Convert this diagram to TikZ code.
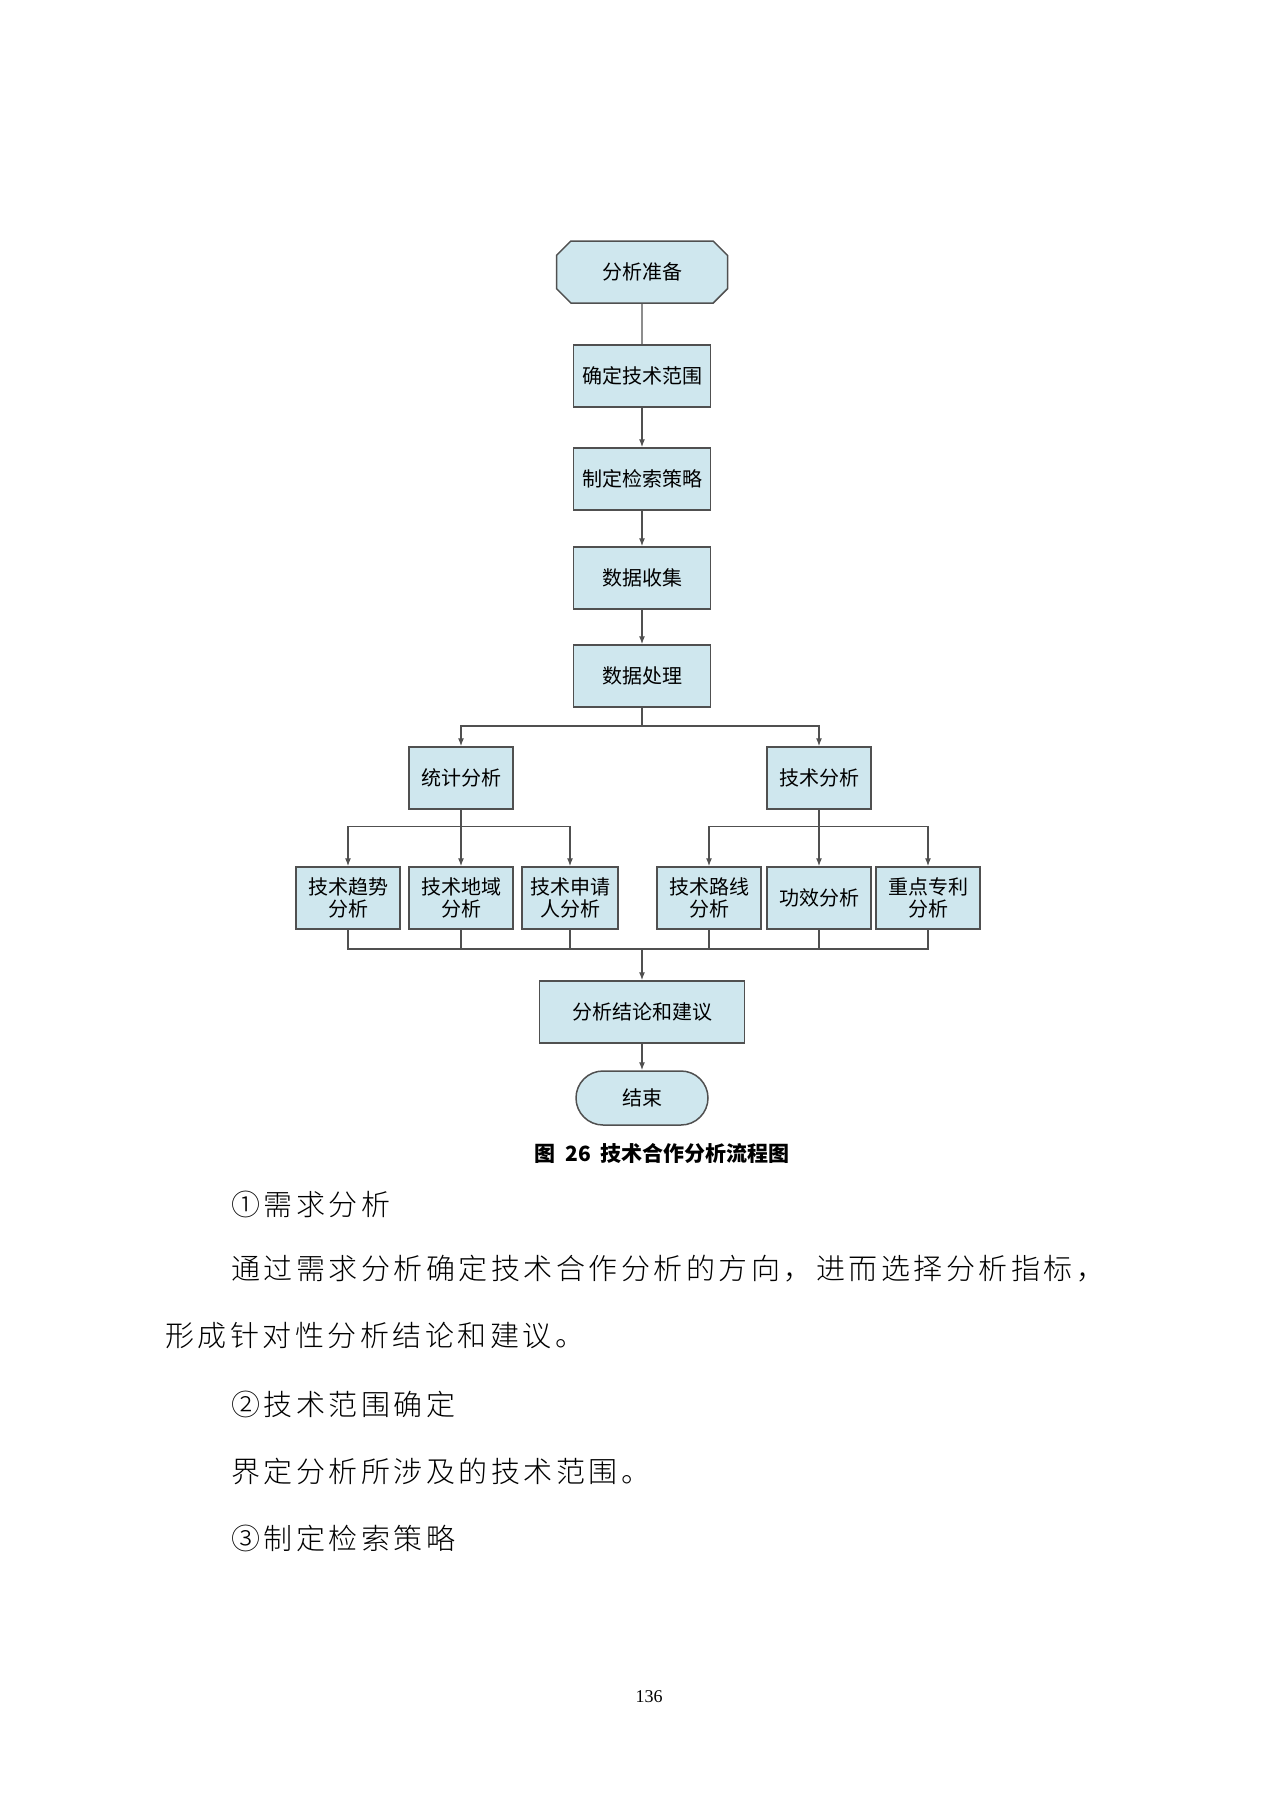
\documentclass[tikz,border=0pt]{standalone}
\usepackage{fontspec}
\setmainfont{Liberation Serif}
\newfontfamily\cjk{Noto Sans CJK SC}
\newfontfamily\cjkbody[LetterSpace=12]{Noto Sans CJK SC Light}
\usetikzlibrary{arrows.meta, positioning, calc, shapes.misc, shapes.geometric}
\definecolor{boxblue}{HTML}{CFE7EE}
\definecolor{edgegray}{HTML}{505050}
\tikzset{
  stepbox/.style={draw=edgegray, fill=boxblue, line width=1.5pt, minimum height=62pt,
    align=center, font=\cjk\fontsize{20}{22}\selectfont, inner sep=2pt},
  link/.style={draw=edgegray, line width=1.3pt},
  arr/.style={link, -{Latex[length=8pt,width=6pt]}},
  bodytext/.style={anchor=west, font=\cjkbody\fontsize{29}{31}\selectfont}
}
\begin{document}
\begin{tikzpicture}[x=1pt,y=-1pt]
  \useasboundingbox (0,0) rectangle (1280,1810);

  % main column
  \node[stepbox, chamfered rectangle, chamfered rectangle xsep=15pt, minimum width=171pt] (prep) at (642,272) {分析准备};
  \node[stepbox, minimum width=137pt] (scope) at (642,376) {确定技术范围};
  \node[stepbox, minimum width=137pt] (search) at (642,479) {制定检索策略};
  \node[stepbox, minimum width=137pt] (collect) at (642,578) {数据收集};
  \node[stepbox, minimum width=137pt] (process) at (642,676) {数据处理};

  % two branches
  \node[stepbox, minimum width=104pt] (stat) at (461,778) {统计分析};
  \node[stepbox, minimum width=104pt] (tech) at (819,778) {技术分析};

  % leaves
  \node[stepbox, minimum width=104pt] (trend) at (348,898) {技术趋势\\分析};
  \node[stepbox, minimum width=104pt] (region) at (461,898) {技术地域\\分析};
  \node[stepbox, minimum width=96pt] (applicant) at (570,898) {技术申请\\人分析};
  \node[stepbox, minimum width=104pt] (route) at (709,898) {技术路线\\分析};
  \node[stepbox, minimum width=104pt] (effect) at (819,898) {功效分析};
  \node[stepbox, minimum width=104pt] (patent) at (928,898) {重点专利\\分析};

  \node[stepbox, minimum width=205pt] (result) at (642,1012) {分析结论和建议};
  \node[stepbox, rounded rectangle, minimum width=136pt, minimum height=54pt] (finish) at (642,1098) {结束};

  % connectors
  \draw[link] (prep) -- (scope);
  \draw[arr] (scope) -- (search);
  \draw[arr] (search) -- (collect);
  \draw[arr] (collect) -- (process);
  \coordinate (split) at (642,726);
  \draw[link] (process) -- (split);
  \draw[arr] (split) -| (stat);
  \draw[arr] (split) -| (tech);
  \foreach \leaf in {trend, region, applicant}
    \draw[arr] (stat.south) -- ++(0,17) -| (\leaf.north);
  \foreach \leaf in {route, effect, patent}
    \draw[arr] (tech.south) -- ++(0,17) -| (\leaf.north);
  \coordinate (merge) at (642,949);
  \foreach \leaf in {trend, region, applicant, route, effect, patent}
    \draw[link] (\leaf.south) |- (merge);
  \draw[arr] (merge) -- (result);
  \draw[arr] (result) -- (finish);

  % caption and page text
  \node[font=\cjk\bfseries\fontsize{21}{23}\selectfont] (caption) at (662,1153) {图\ \ 26\ \ 技术合作分析流程图};
  \node[bodytext] (h1) at (228,1204) {①需求分析};
  \node[bodytext] (p1) at (228,1269) {通过需求分析确定技术合作分析的方向，进而选择分析指标，};
  \node[bodytext] (p2) at (162,1336) {形成针对性分析结论和建议。};
  \node[bodytext] (h2) at (228,1404) {②技术范围确定};
  \node[bodytext] (p3) at (228,1471) {界定分析所涉及的技术范围。};
  \node[bodytext] (h3) at (228,1538) {③制定检索策略};
  \node[font=\fontsize{18}{20}\selectfont] (page) at (649,1697) {136};
\end{tikzpicture}
\end{document}
